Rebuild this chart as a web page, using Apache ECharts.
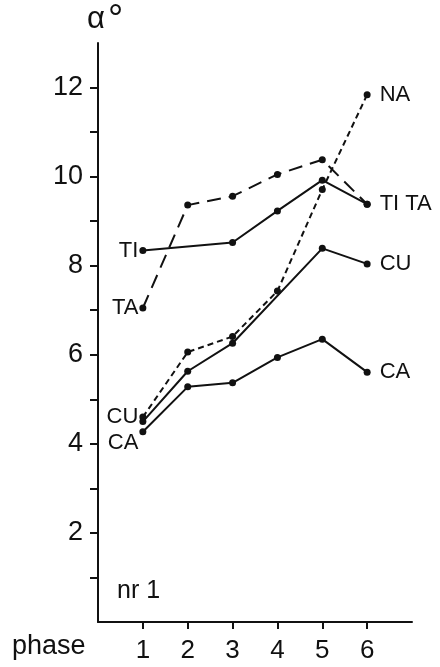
<!DOCTYPE html>
<html>
<head>
<meta charset="utf-8">
<script src="https://cdn.jsdelivr.net/npm/echarts@6/dist/echarts.min.js"></script>
<style>
html,body{margin:0;padding:0;background:#fff;}
#c{width:440px;height:667px;}
</style>
</head>
<body>
<div id="c"></div>
<script>
// Data
const phases = [1, 2, 3, 4, 5, 6];
const TI = [8.34, null, 8.52, 9.23, 9.92, 9.38];
const TA = [7.05, 9.36, 9.56, 10.05, 10.38, 9.38];
const NA = [4.6, 6.06, 6.41, 7.43, 9.71, 11.84];
const CU = [4.50, 5.63, 6.26, null, 8.39, 8.04];
const CA = [4.27, 5.28, 5.37, 5.94, 6.35, 5.61];
const yTickValues = [1, 2, 3, 4, 5, 6, 7, 8, 9, 10, 11, 12];
const yLabelValues = [2, 4, 6, 8, 10, 12];
const xTickValues = [1, 2, 3, 4, 5, 6];
const startLabels = { TI: 'TI', TA: 'TA', NA: '', CU: 'CU', CA: 'CA' };
const endLabels = { TI: 'TI TA', TA: '', NA: 'NA', CU: 'CU', CA: 'CA' };
const startLabelShift = { TI: 0, TA: 0, NA: 0, CU: -5, CA: 11 };

const FONT = '"Liberation Sans", Arial, sans-serif';
const labelStyle = { fontFamily: FONT, fontSize: 22, color: '#111' };

function build(name, vals, lineType) {
  const pts = [];
  phases.forEach((p, i) => { if (vals[i] !== null) pts.push({ x: p, y: vals[i] }); });
  const data = pts.map((pt, k) => {
    const item = { value: [pt.x, pt.y] };
    if (k === 0 && startLabels[name]) {
      item.label = Object.assign({ show: true, position: 'left', distance: 1, offset: [0, startLabelShift[name]], formatter: startLabels[name] }, labelStyle);
    } else if (k === pts.length - 1 && endLabels[name]) {
      item.label = Object.assign({ show: true, position: 'right', distance: 9, formatter: endLabels[name] }, labelStyle);
    }
    return item;
  });
  return {
    name: name, type: 'line', data: data,
    symbol: 'circle', symbolSize: 7,
    itemStyle: { color: '#111' },
    lineStyle: { color: '#111', width: 2, type: lineType },
    label: { show: false },
    animation: false, z: 3
  };
}

const chart = echarts.init(document.getElementById('c'), null, { renderer: 'canvas' });
chart.setOption({
  backgroundColor: '#fff',
  animation: false,
  grid: { left: 98, right: 28, top: 43, bottom: 45, containLabel: false },
  xAxis: {
    type: 'value', min: 0, max: 7,
    axisLine: { show: true, lineStyle: { color: '#111', width: 2 } },
    axisTick: { show: true, inside: false, length: 7, lineStyle: { color: '#111', width: 2 }, customValues: xTickValues },
    axisLabel: { show: true, customValues: xTickValues, margin: 16, fontFamily: FONT, fontSize: 26, color: '#111' },
    splitLine: { show: false }
  },
  yAxis: {
    type: 'value', min: 0, max: 13,
    axisLine: { show: true, lineStyle: { color: '#111', width: 2 } },
    axisTick: { show: true, inside: false, length: 8, lineStyle: { color: '#111', width: 2 }, customValues: yTickValues },
    axisLabel: { show: true, customValues: yLabelValues, margin: 15, fontFamily: FONT, fontSize: 27, color: '#111' },
    splitLine: { show: false }
  },
  graphic: [
    { type: 'text', left: 87, top: 4, style: { text: 'α', fontFamily: FONT, fontSize: 31, fill: '#111' } },
    { type: 'text', left: 108, top: 2, style: { text: '°', fontFamily: FONT, fontSize: 38, fill: '#111' } },
    { type: 'text', left: 12, top: 633, style: { text: 'phase', fontFamily: FONT, fontSize: 27, fill: '#111' } },
    { type: 'text', left: 117, top: 579, style: { text: 'nr 1', fontFamily: FONT, fontSize: 25, fill: '#111' } }
  ],
  series: [
    build('TA', TA, [14, 8]),
    build('TI', TI, 'solid'),
    build('NA', NA, [6, 4]),
    build('CU', CU, 'solid'),
    build('CA', CA, 'solid')
  ]
});
</script>
</body>
</html>
